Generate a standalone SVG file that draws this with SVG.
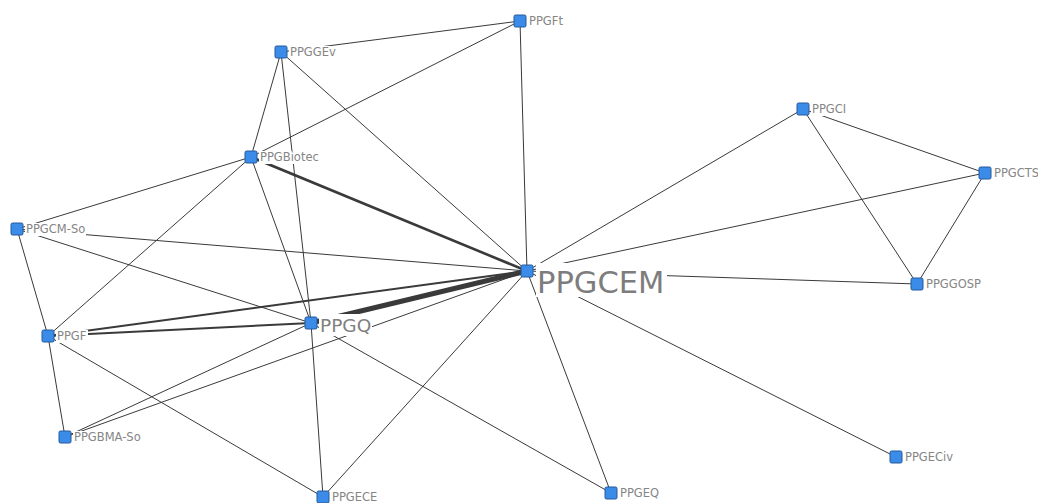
<svg xmlns="http://www.w3.org/2000/svg" width="1038" height="503" viewBox="0 0 1038 503">
<style>
.e{stroke:#3a3a3a;stroke-width:1;fill:none}
.t2{stroke-width:2}
.t3{stroke-width:2.6}
.t5{stroke-width:5}
.bg{fill:#fff}
.n{fill:#3a8ce8;stroke:#24589a;stroke-width:1}
.l{font-family:"DejaVu Sans",Verdana,sans-serif;font-size:11.5px;fill:#858585}
.lq{font-family:"DejaVu Sans",Verdana,sans-serif;font-size:18.5px;fill:#7f7f7f}
.lc{font-family:"DejaVu Sans",Verdana,sans-serif;font-size:30.5px;fill:#7d7d7d}
</style>
<rect width="1038" height="503" fill="#fff"/>
<g id="edges">
<line class="e" x1="281" y1="52" x2="520" y2="21"/>
<line class="e" x1="251" y1="157" x2="520" y2="21"/>
<line class="e" x1="520" y1="21" x2="527" y2="271"/>
<line class="e" x1="281" y1="52" x2="251" y2="157"/>
<line class="e" x1="281" y1="52" x2="311" y2="323"/>
<line class="e" x1="281" y1="52" x2="527" y2="271"/>
<line class="e t3" x1="251" y1="157" x2="527" y2="271"/>
<line class="e" x1="251" y1="157" x2="17" y2="229"/>
<line class="e" x1="251" y1="157" x2="311" y2="323"/>
<line class="e" x1="251" y1="157" x2="48" y2="336"/>
<line class="e" x1="17" y1="229" x2="527" y2="271"/>
<line class="e" x1="17" y1="229" x2="311" y2="323"/>
<line class="e" x1="17" y1="229" x2="48" y2="336"/>
<line class="e t2" x1="48" y1="336" x2="527" y2="271"/>
<line class="e t2" x1="48" y1="336" x2="311" y2="323"/>
<line class="e t5" x1="311" y1="323" x2="527" y2="271"/>
<line class="e" x1="48" y1="336" x2="65" y2="437"/>
<line class="e" x1="48" y1="336" x2="323" y2="497"/>
<line class="e" x1="65" y1="437" x2="311" y2="323"/>
<line class="e" x1="65" y1="437" x2="527" y2="271"/>
<line class="e" x1="311" y1="323" x2="323" y2="497"/>
<line class="e" x1="311" y1="323" x2="611" y2="493"/>
<line class="e" x1="527" y1="271" x2="323" y2="497"/>
<line class="e" x1="527" y1="271" x2="611" y2="493"/>
<line class="e" x1="527" y1="271" x2="896" y2="457"/>
<line class="e" x1="527" y1="271" x2="803" y2="109"/>
<line class="e" x1="527" y1="271" x2="985" y2="173"/>
<line class="e" x1="527" y1="271" x2="917" y2="284"/>
<line class="e" x1="803" y1="109" x2="985" y2="173"/>
<line class="e" x1="803" y1="109" x2="917" y2="284"/>
<line class="e" x1="985" y1="173" x2="917" y2="284"/>
</g>
<g id="PPGFt"><rect class="bg" x="528" y="15" width="36" height="13"/><text class="l" x="529" y="25">PPGFt</text><rect class="n" x="514" y="15" width="12" height="12" rx="1.5"/></g>
<g id="PPGGEv"><rect class="bg" x="289" y="46" width="48" height="13"/><text class="l" x="290" y="56">PPGGEv</text><rect class="n" x="275" y="46" width="12" height="12" rx="1.5"/></g>
<g id="PPGBiotec"><rect class="bg" x="259" y="151" width="61" height="13"/><text class="l" x="260" y="161">PPGBiotec</text><rect class="n" x="245" y="151" width="12" height="12" rx="1.5"/></g>
<g id="PPGCM-So"><rect class="bg" x="25" y="223" width="61" height="13"/><text class="l" x="26" y="233">PPGCM-So</text><rect class="n" x="11" y="223" width="12" height="12" rx="1.5"/></g>
<g id="PPGF"><rect class="bg" x="56" y="330" width="32" height="13"/><text class="l" x="57" y="340">PPGF</text><rect class="n" x="42" y="330" width="12" height="12" rx="1.5"/></g>
<g id="PPGQ"><rect class="bg" x="319" y="314" width="53" height="22"/><text class="lq" x="320" y="332">PPGQ</text><rect class="n" x="305" y="317" width="12" height="12" rx="1.5"/></g>
<g id="PPGCEM"><rect class="bg" x="536" y="263" width="131" height="34"/><text class="lc" x="537" y="293">PPGCEM</text><rect class="n" x="521" y="265" width="12" height="12" rx="1.5"/></g>
<g id="PPGBMA-So"><rect class="bg" x="73" y="431" width="69" height="13"/><text class="l" x="74" y="441">PPGBMA-So</text><rect class="n" x="59" y="431" width="12" height="12" rx="1.5"/></g>
<g id="PPGECE"><rect class="bg" x="331" y="491" width="47" height="13"/><text class="l" x="332" y="501">PPGECE</text><rect class="n" x="317" y="491" width="12" height="12" rx="1.5"/></g>
<g id="PPGEQ"><rect class="bg" x="619" y="487" width="41" height="13"/><text class="l" x="620" y="497">PPGEQ</text><rect class="n" x="605" y="487" width="12" height="12" rx="1.5"/></g>
<g id="PPGECiv"><rect class="bg" x="904" y="451" width="50" height="13"/><text class="l" x="905" y="461">PPGECiv</text><rect class="n" x="890" y="451" width="12" height="12" rx="1.5"/></g>
<g id="PPGCI"><rect class="bg" x="811" y="103" width="36" height="13"/><text class="l" x="812" y="113">PPGCI</text><rect class="n" x="797" y="103" width="12" height="12" rx="1.5"/></g>
<g id="PPGCTS"><rect class="bg" x="993" y="167" width="47" height="13"/><text class="l" x="994" y="177">PPGCTS</text><rect class="n" x="979" y="167" width="12" height="12" rx="1.5"/></g>
<g id="PPGGOSP"><rect class="bg" x="925" y="278" width="57" height="13"/><text class="l" x="926" y="288">PPGGOSP</text><rect class="n" x="911" y="278" width="12" height="12" rx="1.5"/></g>
</svg>
